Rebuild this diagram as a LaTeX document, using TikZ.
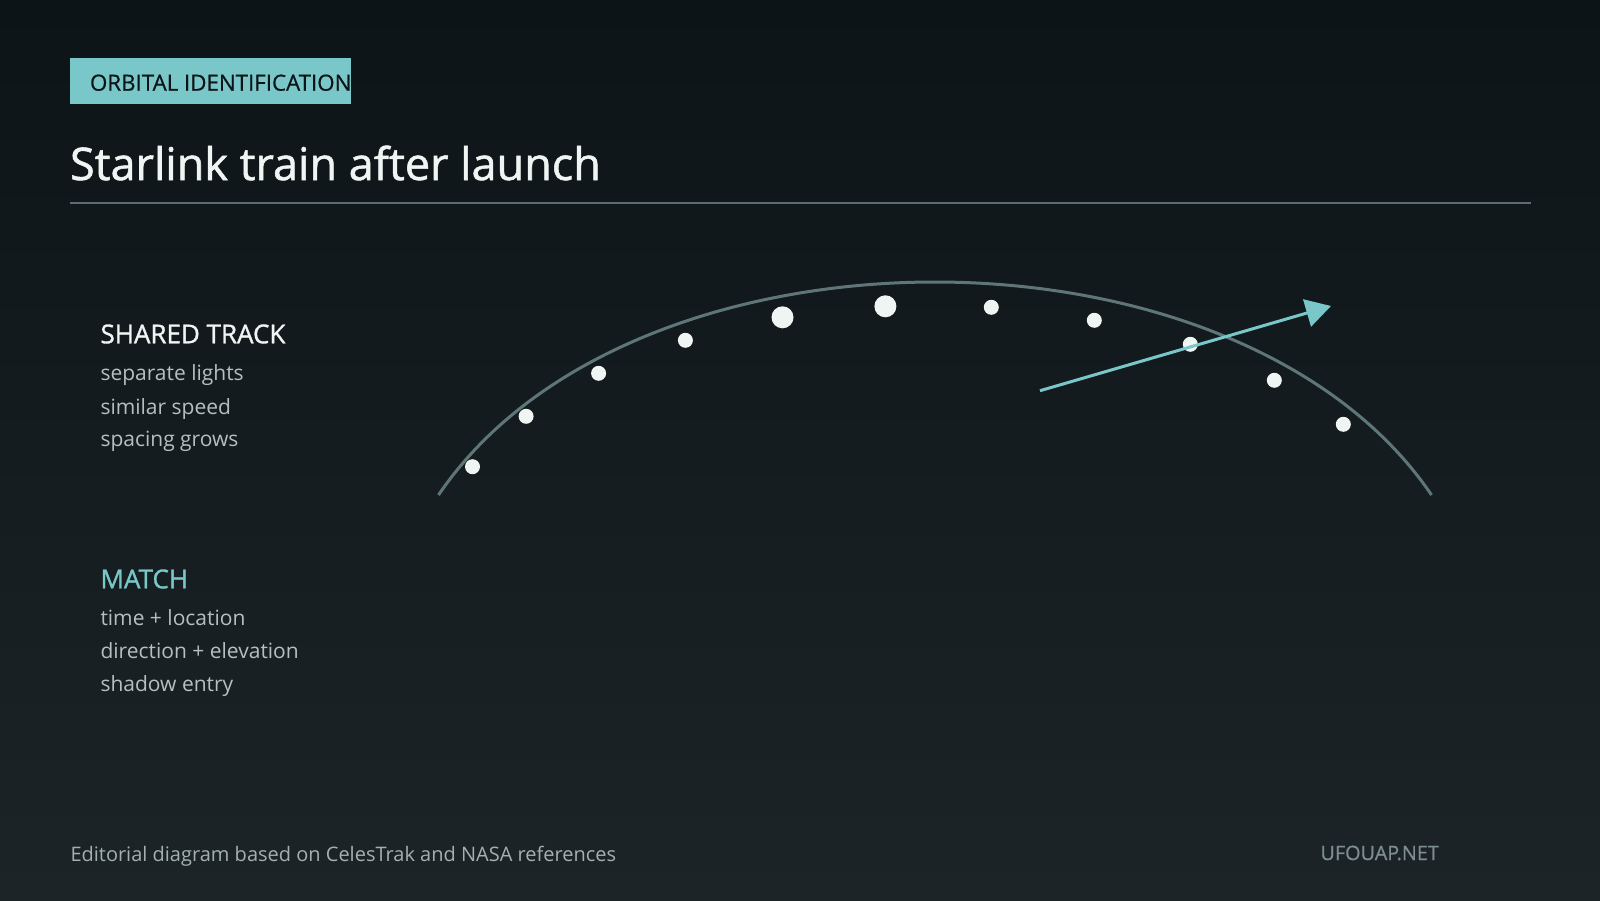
\documentclass[tikz,border=0pt]{standalone}
\usepackage{fontspec}
\setmainfont{Open Sans}
\newfontfamily\semib{Open Sans}[FakeBold=1.2]
\newfontfamily\medi{Open Sans}[FakeBold=0.6]
\usetikzlibrary{arrows.meta}
\definecolor{bgtop}{HTML}{0D1417}
\definecolor{bgbot}{HTML}{1C2427}
\definecolor{teal}{HTML}{79C7C9}
\definecolor{ink}{HTML}{EEF5F2}
\definecolor{soft}{HTML}{B4C0BF}
\definecolor{foot}{HTML}{A3B0B0}
\definecolor{url}{HTML}{7C8E8F}
\definecolor{track}{HTML}{5F7678}
\definecolor{rulec}{HTML}{5A6E70}
\definecolor{tagtext}{HTML}{0D1417}
\tikzset{
  txt/.style={anchor=base west, inner sep=0pt, outer sep=0pt},
  body/.style={txt, text=soft, font=\fontsize{21}{25}\selectfont},
  head/.style={txt, font=\semib\fontsize{26}{30}\selectfont},
  sat/.style={circle, fill=ink, inner sep=0pt, minimum size=15pt},
  bigsat/.style={circle, fill=ink, inner sep=0pt, minimum size=22pt},
  trackline/.style={draw=track, line width=3pt},
  motion/.style={draw=teal, line width=3pt, -{Triangle[length=25pt,width=28pt]}},
}
\begin{document}
\begin{tikzpicture}[x=1pt,y=-1pt]
\useasboundingbox (0,0) rectangle (1600,900);
\shade[top color=bgtop, bottom color=bgbot] (0,0) rectangle (1600,900);

% tag
\fill[teal] (70,58) rectangle (351,104);
\node[txt, text=tagtext, font=\medi\fontsize{22.3}{26}\selectfont] (tag) at (90,90.7) {ORBITAL IDENTIFICATION};

% title
\node[txt, text=ink, font=\semib\fontsize{45}{54}\selectfont] (title) at (70,180) {Starlink train after launch};
\coordinate (ruleL) at (70,203);
\coordinate (ruleR) at (1531,203);
\draw[rulec, line width=2pt] (ruleL) -- (ruleR);

% left texts
\node[head, text=ink] (h1) at (100.5,343.3) {SHARED TRACK};
\node[body] (l1) at (100.5,380.7) {separate lights};
\node[body] (l2) at (100.5,414) {similar speed};
\node[body] (l3) at (100.5,446.7) {spacing grows};

\node[head, text=teal] (h2) at (100.5,588.3) {MATCH};
\node[body] (m1) at (100.5,625) {time + location};
\node[body] (m2) at (100.5,658.3) {direction + elevation};
\node[body] (m3) at (100.5,691) {shadow entry};

% track arc
\coordinate (arcL) at (438.5,495);
\coordinate (arcC1) at (631,211);
\coordinate (arcC2) at (1239,211);
\coordinate (arcR) at (1431.5,495);
\draw[trackline] (arcL) .. controls (arcC1) and (arcC2) .. (arcR);

% satellites
\node[sat] (s1) at (472.5,466.7) {};
\node[sat] (s2) at (526.1,416.3) {};
\node[sat] (s3) at (598.6,373.3) {};
\node[sat] (s4) at (685.4,340.3) {};
\node[bigsat] (s5) at (782.5,317.3) {};
\node[bigsat] (s6) at (885.4,306.3) {};
\node[sat] (s7) at (991.3,307.3) {};
\node[sat] (s8) at (1094.3,320.3) {};
\node[sat] (s9) at (1190.3,344.3) {};
\node[sat] (s10) at (1274.3,380.3) {};
\node[sat] (s11) at (1343.3,424.3) {};

% motion arrow
\coordinate (arrS) at (1040,390.7);
\coordinate (arrE) at (1331,306);
\draw[motion] (arrS) -- (arrE);

% footer
\node[txt, text=foot, font=\fontsize{20}{24}\selectfont] (foot) at (70.5,861.7) {Editorial diagram based on CelesTrak and NASA references};
\node[txt, text=url, font=\medi\fontsize{19.8}{23}\selectfont] (site) at (1320.5,860) {UFOUAP.NET};
\end{tikzpicture}
\end{document}
